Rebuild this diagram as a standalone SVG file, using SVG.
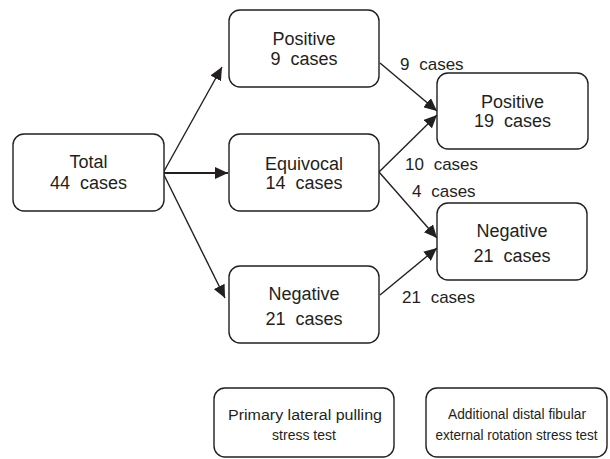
<svg xmlns="http://www.w3.org/2000/svg" width="610" height="459" viewBox="0 0 610 459">
<style>
.box{fill:#fff;stroke:#231f20;stroke-width:1.4}
.t{font-family:"Liberation Sans",Arial,sans-serif;font-size:18px;fill:#231f20;text-anchor:middle;word-spacing:5px}
.e{font-family:"Liberation Sans",Arial,sans-serif;font-size:17px;fill:#231f20;word-spacing:5px}
.s{font-family:"Liberation Sans",Arial,sans-serif;font-size:14px;fill:#231f20;text-anchor:middle}
.c{stroke:#231f20;stroke-width:1.4;fill:none;marker-end:url(#ah)}
</style>
<defs>
<marker id="ah" markerUnits="userSpaceOnUse" markerWidth="14" markerHeight="12" refX="13" refY="6" orient="auto">
<path d="M0,0 L13,6 L0,12 Z" fill="#231f20"/>
</marker>
</defs>
<rect width="610" height="459" fill="#fff"/>
<g id="connectors">
<line class="c" x1="163" y1="173" x2="222" y2="67"/>
<line class="c" x1="163" y1="173" x2="228" y2="173" style="stroke-width:2"/>
<line class="c" x1="163" y1="173" x2="225" y2="298"/>
<line class="c" x1="380" y1="63" x2="437" y2="111"/>
<line class="c" x1="379" y1="172" x2="437" y2="115"/>
<line class="c" x1="379" y1="172" x2="437" y2="238"/>
<line class="c" x1="380" y1="295" x2="437" y2="248"/>
<text class="e" x="400" y="70">9 cases</text>
<text class="e" x="405" y="170">10 cases</text>
<text class="e" x="412" y="197">4 cases</text>
<text class="e" x="402" y="303">21 cases</text>
</g>
<g id="total">
<rect class="box" x="13" y="134" width="151" height="77" rx="11"/>
<text class="t" x="88.5" y="168">Total</text>
<text class="t" x="88.5" y="189">44 cases</text>
</g>
<g id="positive1">
<rect class="box" x="229" y="10" width="150" height="77" rx="11"/>
<text class="t" x="304" y="45">Positive</text>
<text class="t" x="304" y="65">9 cases</text>
</g>
<g id="equivocal">
<rect class="box" x="229" y="134" width="150" height="77" rx="11"/>
<text class="t" x="304" y="170">Equivocal</text>
<text class="t" x="304" y="189">14 cases</text>
</g>
<g id="negative1">
<rect class="box" x="229" y="266" width="150" height="77" rx="11"/>
<text class="t" x="304" y="300">Negative</text>
<text class="t" x="304" y="325">21 cases</text>
</g>
<g id="positive2">
<rect class="box" x="437" y="73" width="151" height="76" rx="11"/>
<text class="t" x="512.5" y="108">Positive</text>
<text class="t" x="512.5" y="127">19 cases</text>
</g>
<g id="negative2">
<rect class="box" x="437" y="203" width="150" height="77" rx="11"/>
<text class="t" x="512" y="237">Negative</text>
<text class="t" x="512" y="262">21 cases</text>
</g>
<g id="legend1">
<rect class="box" x="214" y="388" width="180" height="69" rx="11"/>
<text class="s" x="305" y="420" textLength="154" lengthAdjust="spacingAndGlyphs">Primary lateral pulling</text>
<text class="s" x="304" y="440">stress test</text>
</g>
<g id="legend2">
<rect class="box" x="426" y="388" width="181" height="69" rx="11"/>
<text class="s" x="517" y="419" textLength="138" lengthAdjust="spacingAndGlyphs">Additional distal fibular</text>
<text class="s" x="516.5" y="440" textLength="162" lengthAdjust="spacingAndGlyphs">external rotation stress test</text>
</g>
</svg>
